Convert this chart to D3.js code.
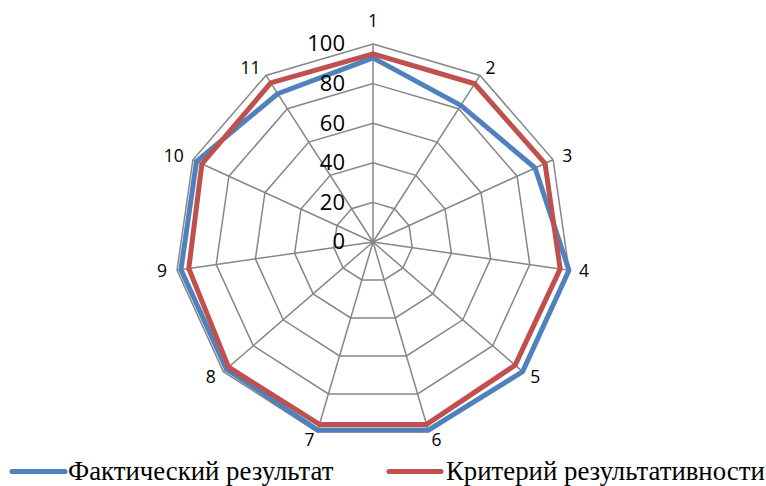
<!DOCTYPE html>
<html><head><meta charset="utf-8">
<script src="https://cdn.jsdelivr.net/npm/d3@7/dist/d3.min.js"></script>
<style>body{margin:0;background:#fff}svg{display:block}</style>
</head><body>
<svg id="c" width="766" height="486"></svg>
<script>
const categories = ["1","2","3","4","5","6","7","8","9","10","11"];
const actual = [93, 82, 90, 100, 100, 99, 99, 98, 98, 98, 89];
const criterion = [95, 95, 95.5, 95.5, 95, 96, 96, 96.5, 94, 95, 95.5];
const radialTicks = [0, 20, 40, 60, 80, 100];
const seriesNames = ["Фактический результат", "Критерий результативности"];

const svg = d3.select("#c");
const cx = 373, cy = 242, R = 198;
const r = d3.scaleLinear().domain([0, 100]).range([0, R]);
const ang = d3.scaleLinear().domain([0, categories.length]).range([0, 2 * Math.PI]);
const pt = (i, v) => [cx + r(v) * Math.sin(ang(i)), cy - r(v) * Math.cos(ang(i))];

const grid = svg.append("g").attr("stroke", "#868686").attr("stroke-width", 1.5).attr("fill", "none");
radialTicks.filter(t => t > 0).forEach(t => {
  grid.append("polygon").attr("points", categories.map((c, i) => pt(i, t).join(",")).join(" "));
});
categories.forEach((c, i) => {
  const p = pt(i, 100);
  grid.append("line").attr("x1", cx).attr("y1", cy).attr("x2", p[0]).attr("y2", p[1]);
});

const line = d3.line().curve(d3.curveLinearClosed);
const colors = ["#4F81BD", "#C0504D"];
[actual, criterion].forEach((s, k) => {
  svg.append("path").attr("d", line(s.map((v, i) => pt(i, v))))
    .attr("fill", "none").attr("stroke", colors[k]).attr("stroke-width", 5).attr("stroke-linejoin", "round");
});

// radial tick labels
svg.append("g").selectAll("text").data(radialTicks).join("text")
  .attr("x", cx - 28).attr("y", d => cy - r(d) + 1.5)
  .attr("text-anchor", "end").attr("dominant-baseline", "middle")
  .attr("font-family", "Open Sans, sans-serif").attr("font-size", 22).attr("fill", "#000")
  .text(d => d);

// category labels, placed just outside each spoke's end
const labelSize = 17.5;
svg.append("g").selectAll("text").data(categories).join("text")
  .attr("font-family", "Open Sans, sans-serif").attr("font-size", labelSize).attr("fill", "#000")
  .attr("text-anchor", "middle").attr("dominant-baseline", "middle")
  .text(d => d)
  .each(function(d, i) {
    const s = Math.sin(ang(i)), c = Math.cos(ang(i));
    const v = pt(i, 100);
    const hw = this.getComputedTextLength() / 2;
    const sg = Math.abs(s) < 1e-6 ? 0 : Math.sign(s);
    let x = v[0] + sg * hw + 10 * s;
    let y = v[1] - 9 * c + 1;
    if (sg === 0) y -= 14 * Math.sign(c);
    d3.select(this).attr("x", x).attr("y", y);
  });

// legend
const leg = [{x1: 12, x2: 65, tx: 68}, {x1: 389, x2: 441, tx: 446}];
leg.forEach((L, k) => {
  svg.append("line").attr("x1", L.x1).attr("x2", L.x2).attr("y1", 471.5).attr("y2", 471.5)
    .attr("stroke", colors[k]).attr("stroke-width", 5).attr("stroke-linecap", "round");
  svg.append("text").attr("x", L.tx).attr("y", 480)
    .attr("font-family", "Liberation Serif, serif").attr("font-size", 26.8).attr("fill", "#000")
    .text(seriesNames[k]);
});
</script>
</body></html>
